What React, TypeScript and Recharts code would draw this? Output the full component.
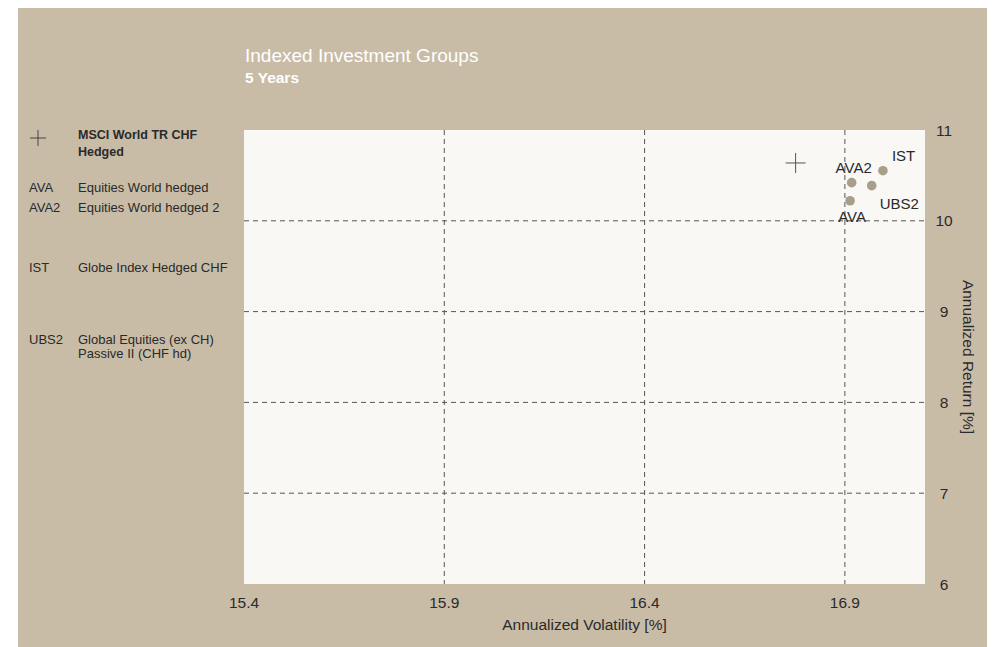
import React from 'react';
import { ScatterChart, Scatter, XAxis, YAxis, CartesianGrid } from 'recharts';

// indexed investment groups, 5 years
const codes = ['AVA', 'AVA2', 'IST', 'UBS2'];
const fundNames = [
  'Equities World hedged',
  'Equities World hedged 2',
  'Globe Index Hedged CHF',
  'Global Equities (ex CH) Passive II (CHF hd)',
];
const volatility = [16.913, 16.917, 16.995, 16.967];
const annualReturn = [10.221, 10.42, 10.552, 10.387];

const benchmarkName = 'MSCI World TR CHF Hedged';
const benchmarkVolatility = [16.777];
const benchmarkReturn = [10.637];

const xTicks = [15.4, 15.9, 16.4, 16.9];
const yTicks = [6, 7, 8, 9, 10, 11];
const xGrid = [15.9, 16.4, 16.9];
const yGrid = [7, 8, 9, 10];

const funds = codes.map((code, i) => ({ code, x: volatility[i], y: annualReturn[i] }));
const benchmark = benchmarkVolatility.map((x, i) => ({ x, y: benchmarkReturn[i] }));

const FONT = "'Liberation Sans', Arial, sans-serif";
const BG = '#c8bca7';
const PLOT_BG = '#f9f8f5';
const DOT = '#a89f8b';
const TEXT = '#2a2a2a';

// where each point label sits relative to its dot
const labelPlace: Record<string, { dx: number; dy: number; anchor: 'start' | 'middle' | 'end' }> = {
  AVA: { dx: 2, dy: 21, anchor: 'middle' },
  AVA2: { dx: 2, dy: -10, anchor: 'middle' },
  IST: { dx: 9, dy: -10, anchor: 'start' },
  UBS2: { dx: 8, dy: 23, anchor: 'start' },
};
const legendTop = [172.5, 192.5, 252.5, 324.5];

const FundDot = (p: any) => {
  const place = labelPlace[p.payload.code];
  return (
    <g>
      <circle cx={p.cx} cy={p.cy} r={4.8} fill={DOT} />
      <text
        x={p.cx + place.dx}
        y={p.cy + place.dy}
        textAnchor={place.anchor}
        fontSize={15}
        fontFamily={FONT}
        fill={TEXT}
      >
        {p.payload.code}
      </text>
    </g>
  );
};

const Cross = (p: any) => (
  <g stroke="#555" strokeWidth={1}>
    <line x1={p.cx - 10} y1={p.cy} x2={p.cx + 10} y2={p.cy} />
    <line x1={p.cx} y1={p.cy - 10} x2={p.cx} y2={p.cy + 10} />
  </g>
);

const XTick = (p: any) => (
  <text x={p.x} y={p.y} dy={16} textAnchor="middle" fontSize={15.5} fontFamily={FONT} fill={TEXT}>
    {p.payload.value}
  </text>
);

const YTick = (p: any) => (
  <text x={p.x + 11} y={p.y} dy={5.5} textAnchor="middle" fontSize={15.5} fontFamily={FONT} fill={TEXT}>
    {p.payload.value}
  </text>
);

const YLabel = (p: any) => {
  const vb = p.viewBox;
  const cx = vb.x + 43;
  const cy = vb.y + vb.height / 2;
  return (
    <text
      x={cx}
      y={cy}
      transform={`rotate(90, ${cx}, ${cy})`}
      textAnchor="middle"
      dominantBaseline="central"
      fontSize={15.5}
      fontFamily={FONT}
      fill={TEXT}
    >
      Annualized Return [%]
    </text>
  );
};

export default function App() {
  return (
    <div
      style={{
        position: 'relative',
        marginLeft: 10,
        width: 972,
        height: 639,
        background: BG,
        fontFamily: FONT,
        color: TEXT,
      }}
    >
      <div style={{ position: 'absolute', left: 227, top: 38, fontSize: 19, lineHeight: '19px', color: '#fff' }}>
        Indexed Investment Groups
      </div>
      <div
        style={{ position: 'absolute', left: 227, top: 61.6, fontSize: 15.5, lineHeight: '16px', fontWeight: 'bold', color: '#fff' }}
      >
        5 Years
      </div>

      <svg style={{ position: 'absolute', left: 12, top: 122 }} width={18} height={18}>
        <line x1={0} y1={8} x2={16} y2={8} stroke="#444" />
        <line x1={8} y1={0} x2={8} y2={16} stroke="#444" />
      </svg>
      <div
        style={{ position: 'absolute', left: 60, top: 119.3, width: 150, fontSize: 12.5, lineHeight: '17px', fontWeight: 'bold' }}
      >
        {benchmarkName}
      </div>
      {codes.map((code, i) => (
        <React.Fragment key={code}>
          <div style={{ position: 'absolute', left: 11, top: legendTop[i], fontSize: 13, lineHeight: '14px' }}>{code}</div>
          <div style={{ position: 'absolute', left: 60, top: legendTop[i], width: 165, fontSize: 13, lineHeight: '14px' }}>
            {fundNames[i]}
          </div>
        </React.Fragment>
      ))}

      <ScatterChart width={972} height={639} margin={{ top: 122, right: 10, bottom: 15, left: 226 }}>
        <CartesianGrid
          fill={PLOT_BG}
          stroke="#555"
          strokeDasharray="5 4"
          verticalValues={xGrid}
          horizontalValues={yGrid}
        />
        <XAxis
          type="number"
          dataKey="x"
          domain={[15.4, 17.1]}
          ticks={xTicks}
          axisLine={false}
          tickLine={false}
          tick={<XTick />}
          height={48}
          allowDataOverflow
          label={{ value: 'Annualized Volatility [%]', position: 'insideBottom', offset: 2, fontSize: 15.5, fontFamily: FONT, fill: TEXT }}
        />
        <YAxis
          type="number"
          dataKey="y"
          orientation="right"
          domain={[6, 11]}
          ticks={yTicks}
          axisLine={false}
          tickLine={false}
          tick={<YTick />}
          width={55}
          allowDataOverflow
          label={{ content: <YLabel /> }}
        />
        <Scatter data={benchmark} shape={<Cross />} isAnimationActive={false} />
        <Scatter data={funds} shape={<FundDot />} isAnimationActive={false} />
      </ScatterChart>
    </div>
  );
}
